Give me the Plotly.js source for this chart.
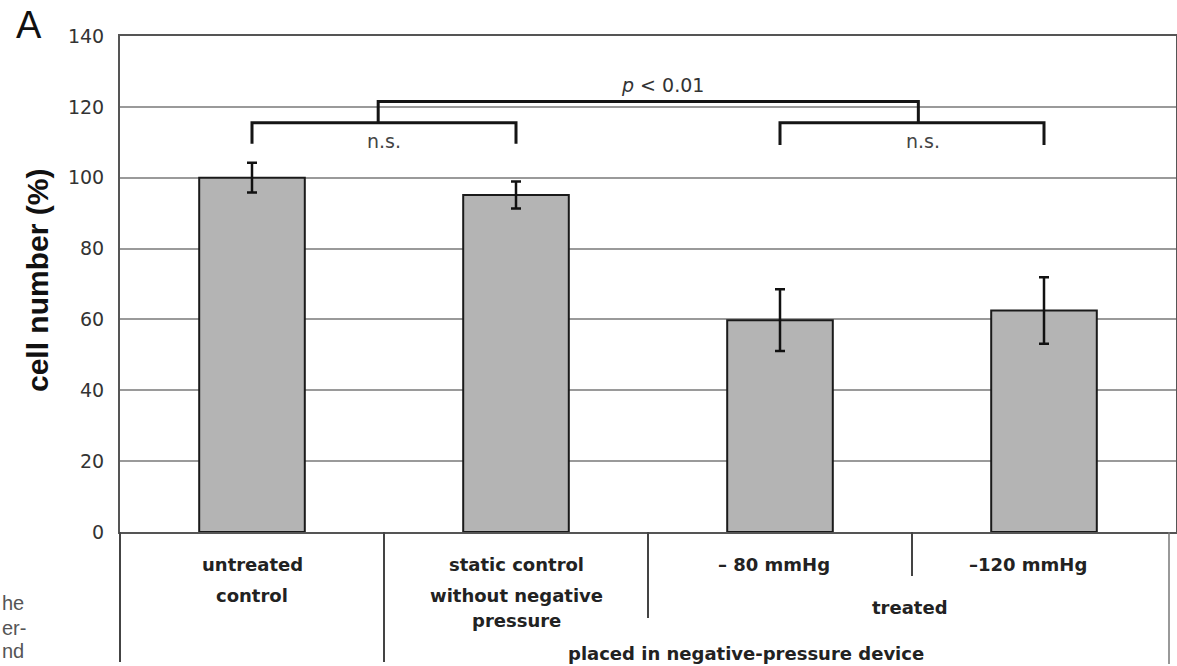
<!DOCTYPE html>
<html>
<head>
<meta charset="utf-8">
<script src="https://cdn.plot.ly/plotly-3.0.1.min.js"></script>
<style>
  html, body { margin: 0; padding: 0; background: #fff; }
  #chart { width: 1177px; height: 666px; }
</style>
</head>
<body>
<div id="chart"></div>
<script>
// ---- data ----
var categories = ['untreated control', 'static control without negative pressure', '-80 mmHg', '-120 mmHg'];
var categoryLabelLines = [['untreated', 'control'], ['static control', 'without negative', 'pressure'], ['\u2013 80 mmHg'], ['\u2013120 mmHg']];
var cellNumber = [100, 95.1, 59.8, 62.5];
var errorValues = [4.2, 3.8, 8.7, 9.4];
var yTickValues = [0, 20, 40, 60, 80, 100, 120, 140];
var groupLabelTreated = 'treated';
var groupLabelDevice = 'placed in negative-pressure device';
var comparisonLabels = ['n.s.', 'n.s.', '<i>p</i> < 0.01'];

// ---- layout helpers ----
var plotTop = 36, plotBottom = 532, plotH = plotBottom - plotTop;
var plotLeft = 120, plotW = 1056;
function py(pix) { return (plotBottom - pix) / plotH; }     // pixel y -> paper y
function px(pix) { return (pix - plotLeft) / plotW; }        // pixel x -> paper x

var trace = {
  type: 'bar',
  x: [0, 1, 2, 3],
  y: cellNumber,
  width: 0.4,
  marker: { color: '#b4b4b4', line: { color: '#1a1a1a', width: 2 } },
  error_y: { type: 'data', array: errorValues, visible: true, color: '#111', thickness: 2.5, width: 5 },
  hoverinfo: 'skip'
};

var shapes = [];
var annotations = [];
var brk = { color: '#151515', width: 3 };

// significance brackets (data coords)
shapes.push({ type: 'path', xref: 'x', yref: 'y', path: 'M 0,109.6 L 0,115.5 L 1,115.5 L 1,109.6', line: brk });
shapes.push({ type: 'path', xref: 'x', yref: 'y', path: 'M 2,109.2 L 2,115.5 L 3,115.5 L 3,109.2', line: brk });
shapes.push({ type: 'path', xref: 'x', yref: 'y', path: 'M 0.478,115.5 L 0.478,121.5 L 2.524,121.5 L 2.524,115.5', line: brk });

annotations.push({ xref: 'x', yref: 'y', x: 0.5, y: 110.3, text: comparisonLabels[0], showarrow: false,
  font: { family: 'DejaVu Sans', size: 19, color: '#444' } });
annotations.push({ xref: 'x', yref: 'y', x: 2.54, y: 110.3, text: comparisonLabels[1], showarrow: false,
  font: { family: 'DejaVu Sans', size: 19, color: '#444' } });
annotations.push({ xref: 'x', yref: 'y', x: 1.554, y: 126.3, text: comparisonLabels[2], showarrow: false,
  font: { family: 'DejaVu Sans', size: 19, color: '#333' } });

// separators below the plot
var sepLine = { color: '#444', width: 2 };
shapes.push({ type: 'line', xref: 'paper', yref: 'paper', x0: 0, x1: 0, y0: 0, y1: py(662), line: sepLine });
shapes.push({ type: 'line', xref: 'paper', yref: 'paper', x0: 0.25, x1: 0.25, y0: 0, y1: py(662), line: sepLine });
shapes.push({ type: 'line', xref: 'paper', yref: 'paper', x0: 0.5, x1: 0.5, y0: 0, y1: py(618), line: sepLine });
shapes.push({ type: 'line', xref: 'paper', yref: 'paper', x0: 0.75, x1: 0.75, y0: 0, y1: py(576), line: sepLine });
shapes.push({ type: 'line', xref: 'paper', yref: 'paper', x0: px(1169), x1: px(1169), y0: 0, y1: py(664), line: { color: '#777', width: 1.5 } });

// category labels
var lineY = [564, 595, 620];
var catXShift = [0, 0, -6, -16];
var labFont = { family: 'DejaVu Sans', size: 18, color: '#222', weight: 'bold' };
categoryLabelLines.forEach(function (lines, i) {
  lines.forEach(function (t, j) {
    annotations.push({ xref: 'x', yref: 'paper', x: i, y: py(lineY[j]), xshift: catXShift[i], text: t,
      showarrow: false, xanchor: 'center', yanchor: 'middle', font: labFont });
  });
});
annotations.push({ xref: 'paper', yref: 'paper', x: px(910), y: py(607), text: groupLabelTreated, showarrow: false,
  xanchor: 'center', yanchor: 'middle', font: labFont });
annotations.push({ xref: 'paper', yref: 'paper', x: px(746), y: py(653), text: groupLabelDevice, showarrow: false,
  xanchor: 'center', yanchor: 'middle', font: labFont });

// y-axis title
annotations.push({ xref: 'paper', yref: 'paper', x: px(37), y: py(281), text: 'cell number (%)', textangle: -90,
  showarrow: false, xanchor: 'center', yanchor: 'middle',
  font: { family: 'Liberation Sans', size: 30, color: '#111', weight: 'bold' } });

// panel letter
annotations.push({ xref: 'paper', yref: 'paper', x: px(29), y: py(25), text: 'A', showarrow: false,
  xanchor: 'center', yanchor: 'middle', font: { family: 'Liberation Sans', size: 38, color: '#111' } });

// cropped text fragments at the left edge
var fragFont = { family: 'Liberation Sans', size: 20, color: '#555' };
[['he', 603], ['er-', 628], ['nd', 651]].forEach(function (f) {
  annotations.push({ xref: 'paper', yref: 'paper', x: px(0), y: py(f[1]), text: f[0], showarrow: false,
    xanchor: 'left', yanchor: 'middle', font: fragFont });
});

var layout = {
  width: 1177, height: 666,
  margin: { l: 120, r: 1, t: 36, b: 134, pad: 0 },
  paper_bgcolor: '#fff', plot_bgcolor: '#fff',
  showlegend: false,
  xaxis: {
    range: [-0.5, 3.5], showticklabels: false, ticks: '', showgrid: false, zeroline: false,
    showline: true, mirror: true, linecolor: '#555', linewidth: 2, fixedrange: true
  },
  yaxis: {
    range: [0, 140], tickvals: yTickValues, ticks: '', ticklabelstandoff: 10,
    tickfont: { family: 'DejaVu Sans', size: 19, color: '#333' },
    showgrid: true, gridcolor: '#9a9a9a', gridwidth: 2,
    zeroline: false, showline: true, mirror: true, linecolor: '#555', linewidth: 2, fixedrange: true
  },
  shapes: shapes,
  annotations: annotations
};

Plotly.newPlot('chart', [trace], layout, { displayModeBar: false, staticPlot: true });
</script>
</body>
</html>
